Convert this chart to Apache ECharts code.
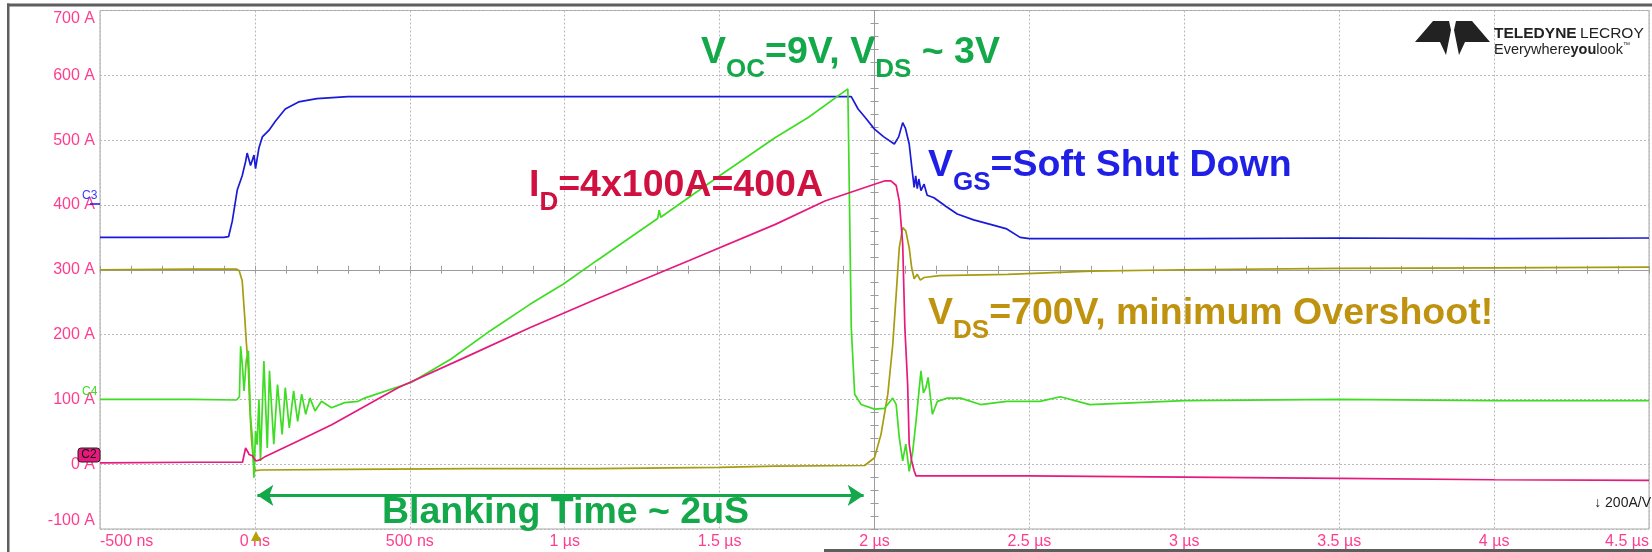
<!DOCTYPE html>
<html>
<head>
<meta charset="utf-8">
<script src="https://cdn.jsdelivr.net/npm/echarts@6/dist/echarts.min.js"></script>
<style>
html,body{margin:0;padding:0;background:#fff}
#scope{width:1652px;height:552px}
</style>
</head>
<body>
<div id="scope"></div>
<script>
// tick labels (time axis in us, current axis in A)
var xTickLabels = ['-500 ns','0 ns','500 ns','1 µs','1.5 µs','2 µs','2.5 µs','3 µs','3.5 µs','4 µs','4.5 µs'];
var yTickLabels = ['-100 A','0 A','100 A','200 A','300 A','400 A','500 A','600 A','700 A'];

// C3 - gate voltage (blue), [time us, screen A]
var vgsTrace = [[-0.5,350],[-0.3,350],[-0.1,350],[-0.085,351],[-0.073,375],[-0.057,423],[-0.041,445],[-0.03,467],
  [-0.025,480],[-0.014,461],[-0.003,477],[0.002,456],[0.013,488],[0.024,505],[0.045,515],[0.066,529],[0.098,548],
  [0.141,559],[0.2,564],[0.3,567],[0.6,567],[1.0,567],[1.5,567],[1.925,567],[1.947,548],[1.97,535],[2.0,517],
  [2.03,505],[2.064,494],[2.078,505],[2.091,527],[2.1,518],[2.112,494],[2.12,460],[2.128,427],[2.133,445],[2.138,425],
  [2.143,440],[2.15,422],[2.16,432],[2.17,415],[2.192,411],[2.23,398],[2.267,386],[2.32,377],[2.374,370],[2.427,363],
  [2.47,350],[2.5,348],[3.0,348],[3.5,349],[4.0,348],[4.5,349]];

// C1 - drain voltage (olive)
var vdsTrace = [[-0.5,300],[-0.2,301],[-0.06,301],[-0.051,299],[-0.041,283],[-0.033,228],[-0.028,190],[-0.021,147],
  [-0.017,93],[-0.011,39],[-0.003,-4],[0.002,-10],[0.02,-9],[0.3,-8],[0.7,-7],[1.1,-7],[1.5,-5],[1.68,-3],[1.968,-2],
  [2.0,10],[2.021,46],[2.043,108],[2.059,185],[2.07,262],[2.08,334],[2.091,365],[2.101,360],[2.112,334],[2.12,303],
  [2.128,286],[2.138,293],[2.148,284],[2.16,288],[2.21,291],[2.43,293],[2.7,298],[3.0,300],[3.5,302],[4.0,303],[4.5,304]];

// C4 - desat / VOC (green)
var vocTrace = [[-0.5,100],[-0.2,100],[-0.06,99],[-0.05,104],[-0.046,182],[-0.04,150],[-0.035,113],[-0.028,160],
  [-0.021,175],[-0.014,72],[-0.008,40],[-0.003,-21],[0.002,51],[0.007,30],[0.013,100],[0.018,5],[0.029,159],[0.04,25],
  [0.047,144],[0.061,31],[0.073,123],[0.088,46],[0.098,118],[0.111,56],[0.125,113],[0.138,66],[0.151,108],[0.164,77],
  [0.178,102],[0.194,82],[0.215,97],[0.247,87],[0.29,95],[0.333,97],[0.354,102],[0.504,126],[0.632,162],[0.76,206],
  [0.889,247],[0.996,278],[1.103,314],[1.3,379],[1.305,392],[1.31,381],[1.5,445],[1.68,504],[1.786,535],[1.914,579],
  [1.92,580],[1.925,211],[1.936,108],[1.957,92],[2.0,85],[2.032,86],[2.059,102],[2.07,92],[2.08,41],[2.091,5],
  [2.101,31],[2.112,-11],[2.123,18],[2.134,66],[2.15,144],[2.158,110],[2.166,118],[2.173,134],[2.187,77],[2.203,97],
  [2.235,102],[2.278,102],[2.342,92],[2.427,97],[2.534,97],[2.6,104],[2.695,92],[3.0,98],[3.5,100],[4.0,98],[4.5,98]];

// C2 - drain current (magenta)
var idTrace = [[-0.5,2],[-0.2,3],[-0.04,3],[-0.03,25],[-0.024,20],[-0.019,15],[-0.008,13],[0.003,5],[0.018,7],
  [0.034,12],[0.141,36],[0.248,61],[0.462,118],[0.675,164],[0.889,211],[1.103,255],[1.4,314],[1.68,370],[1.84,406],
  [2.0,432],[2.032,437],[2.053,437],[2.07,430],[2.08,406],[2.091,340],[2.098,211],[2.107,123],[2.112,31],[2.12,5],
  [2.128,-10],[2.134,-18],[2.5,-18],[3.0,-20],[3.5,-22],[4.0,-24],[4.5,-25]];

// blanking arrow ends [us, A]
var blankingArrow = [[0.008,-48],[1.965,-48]];

var FONT = 'Liberation Sans';
var labelPink = '#ff3d8e';
var gridDot = {color:'#b8b8b8', type:[2,2], width:1};
var crossCol = '#9c9c9c';

function traceSeries(name, data, color, extra) {
  var s = {
    name: name, type: 'line', data: data, symbol: 'none', showSymbol: false,
    xAxisIndex: 0, yAxisIndex: 0, silent: true, z: 5,
    lineStyle: {color: color, width: 1.7}
  };
  for (var k in extra) s[k] = extra[k];
  return s;
}

function annot(x, y, text, color) {
  return {
    type: 'text', x: x, y: y, z: 100,
    style: {
      text: text, align: 'left', verticalAlign: 'top',
      rich: {
        m: {fontSize: 37.5, fontWeight: 'bold', fontFamily: FONT, fill: color, lineHeight: 40, verticalAlign: 'top'},
        s: {fontSize: 26, fontWeight: 'bold', fontFamily: FONT, fill: color, lineHeight: 30, verticalAlign: 'top', padding: [23, 0, 0, 0]}
      }
    }
  };
}

var chart = echarts.init(document.getElementById('scope'));
var option = {
  animation: false,
  backgroundColor: '#fff',
  grid: {left: 100, top: 10.5, right: 0, bottom: 23, show: true, borderColor: '#a8a8a8', borderWidth: 1},
  xAxis: [
    {type: 'value', min: -0.5, max: 4.5, interval: 0.5,
      axisLine: {show: false, onZero: false}, axisTick: {show: false},
      splitLine: {show: true, lineStyle: gridDot},
      axisLabel: {color: labelPink, fontSize: 16, fontFamily: FONT, margin: 5,
        alignMinLabel: 'left', alignMaxLabel: 'right',
        formatter: function (v) { return xTickLabels[Math.round((v + 0.5) / 0.5)]; }}},
    {type: 'value', min: -2.5, max: 2.5, interval: 0.1, position: 'top',
      axisLine: {show: true, onZero: true, onZeroAxisIndex: 1, lineStyle: {color: crossCol}},
      axisTick: {show: true, length: 4, lineStyle: {color: crossCol}},
      axisLabel: {show: false}, splitLine: {show: false}},
    {type: 'value', min: -2.5, max: 2.5, interval: 0.1, position: 'top',
      axisLine: {show: false, onZero: true, onZeroAxisIndex: 1},
      axisTick: {show: true, inside: true, length: 4, lineStyle: {color: crossCol}},
      axisLabel: {show: false}, splitLine: {show: false}}
  ],
  yAxis: [
    {type: 'value', min: -100, max: 700, interval: 100,
      axisLine: {show: false, onZero: false}, axisTick: {show: false},
      splitLine: {show: true, lineStyle: gridDot},
      axisLabel: {color: labelPink, fontSize: 16, fontFamily: FONT, margin: 5,
        verticalAlignMaxLabel: 'top', verticalAlignMinLabel: 'bottom',
        formatter: function (v) { return yTickLabels[Math.round((v + 100) / 100)]; }}},
    {type: 'value', min: -400, max: 400, interval: 20, position: 'right',
      axisLine: {show: true, onZero: true, onZeroAxisIndex: 1, lineStyle: {color: crossCol}},
      axisTick: {show: true, length: 4, lineStyle: {color: crossCol}},
      axisLabel: {show: false}, splitLine: {show: false}},
    {type: 'value', min: -400, max: 400, interval: 20, position: 'right',
      axisLine: {show: false, onZero: true, onZeroAxisIndex: 1},
      axisTick: {show: true, inside: true, length: 4, lineStyle: {color: crossCol}},
      axisLabel: {show: false}, splitLine: {show: false}}
  ],
  series: [
    traceSeries('VDS', vdsTrace, '#a69c10'),
    traceSeries('VGS', vgsTrace, '#1a1ad8'),
    traceSeries('VOC', vocTrace, '#3edc22'),
    traceSeries('ID', idTrace, '#e6197c', {
      markLine: {
        silent: true, symbol: ['arrow', 'arrow'], symbolSize: 16, z: 20,
        label: {show: false},
        lineStyle: {color: '#13a84a', width: 3, type: 'solid'},
        data: [[{coord: blankingArrow[0]}, {coord: blankingArrow[1]}]]
      }
    })
  ],
  graphic: [
    // outer frame of the screen capture
    {type: 'rect', z: 90, shape: {x: 7, y: 3.5, width: 1645, height: 3}, style: {fill: '#5e5e5e'}},
    {type: 'rect', z: 90, shape: {x: 7, y: 3.5, width: 2.5, height: 549}, style: {fill: '#5e5e5e'}},
    {type: 'rect', z: 90, shape: {x: 824, y: 549, width: 828, height: 3}, style: {fill: '#5e5e5e'}},
    // channel markers
    {type: 'text', z: 60, x: 82, y: 190, style: {text: 'C3', fill: '#3a3aff', font: '12px ' + FONT}},
    {type: 'line', z: 60, shape: {x1: 90, y1: 204, x2: 100, y2: 204}, style: {stroke: '#1a1ad8', lineWidth: 1.5}},
    {type: 'text', z: 60, x: 82, y: 386, style: {text: 'C4', fill: '#3edc22', font: '12px ' + FONT}},
    {type: 'rect', z: 60, shape: {x: 78, y: 448, width: 22, height: 14, r: 3}, style: {fill: '#e8197d', stroke: '#222', lineWidth: 1}},
    {type: 'text', z: 61, x: 89, y: 455, style: {text: 'C2', fill: '#111', font: '12px ' + FONT, align: 'center', verticalAlign: 'middle'}},
    // trigger marker
    {type: 'polygon', z: 60, shape: {points: [[251, 541], [261, 541], [256, 531]]}, style: {fill: '#b3a300'}},
    // vertical scale
    {type: 'text', z: 60, x: 1651, y: 503, style: {text: '↓ 200A/V', fill: '#222', font: '14px ' + FONT, align: 'right', verticalAlign: 'middle'}},
    // logo
    {type: 'polygon', z: 60, shape: {points: [[1433, 21], [1449, 21], [1451, 30], [1446, 55], [1440, 42], [1415, 42]]}, style: {fill: '#222'}},
    {type: 'polygon', z: 60, shape: {points: [[1472, 21], [1456, 21], [1454, 30], [1459, 55], [1465, 42], [1490, 42]]}, style: {fill: '#222'}},
    {type: 'text', z: 60, x: 1494, y: 26, style: {text: '{b|TELEDYNE} {r|LECROY}', rich: {
      b: {fontSize: 15.5, fontWeight: 'bold', fontFamily: FONT, fill: '#222'},
      r: {fontSize: 15.5, fontFamily: FONT, fill: '#222'}}}},
    {type: 'text', z: 60, x: 1494, y: 42, style: {text: '{r|Everywhere}{b|you}{r|look}{t|™}', rich: {
      b: {fontSize: 14.5, fontWeight: 'bold', fontFamily: FONT, fill: '#222'},
      r: {fontSize: 14.5, fontFamily: FONT, fill: '#222'},
      t: {fontSize: 7, fontFamily: FONT, fill: '#222', verticalAlign: 'top'}}}},
    // annotations
    annot(701, 34, '{m|V}{s|OC}{m|=9V, V}{s|DS}{m| ~ 3V}', '#13a84a'),
    annot(529, 167, '{m|I}{s|D}{m|=4x100A=400A}', '#d01040'),
    annot(928, 147, '{m|V}{s|GS}{m|=Soft Shut Down}', '#1f1fe6'),
    annot(928, 295, '{m|V}{s|DS}{m|=700V, minimum Overshoot!}', '#bf930f'),
    annot(382, 494, '{m|Blanking Time ~ 2uS}', '#13a84a')
  ]
};
chart.setOption(option);
</script>
</body>
</html>
